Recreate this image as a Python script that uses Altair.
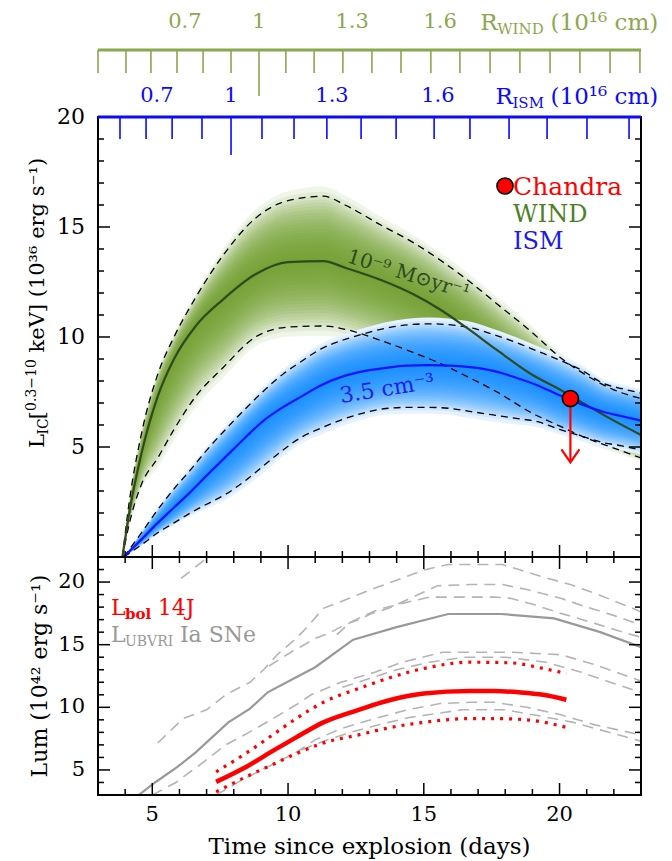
import math
import pandas as pd
import altair as alt

FONT = "DejaVu Serif"
GREEN_AX = "#8aa84e"
BLUE_AX = "#0a0aff"
WIND_FILL = "#6e9b2a"
WIND_LINE = "#2f4a1f"
ISM_FILL = "#0a8cff"
ISM_LINE = "#1414ff"

# ---------------- data: top panel (L_IC, 1e36 erg/s, vs days) ----------------
WIND_T   = [3.9, 4.15, 4.6, 5.2, 5.8, 6.6, 7.6, 8.8, 10.0, 11.3, 12.1, 13.4, 14.6, 15.6, 16.6, 17.7, 18.9, 20.1, 21.0, 22.0, 23.0]
WIND_MID = [0.0, 2.0, 4.7, 7.3, 9.0, 10.5, 11.7, 12.85, 13.4, 13.45, 13.15, 12.6, 11.95, 11.25, 10.4, 9.4, 8.35, 7.55, 6.9, 6.2, 5.55]
WIND_HI  = [0.0, 2.5, 5.6, 8.3, 10.0, 11.8, 13.7, 15.4, 16.2, 16.4, 16.0, 15.1, 14.3, 13.5, 12.6, 11.5, 10.3, 9.0, 8.25, 7.6, 7.2]
WIND_LO  = [0.0, 1.5, 3.3, 4.5, 5.8, 7.3, 8.6, 10.0, 10.45, 10.5, 10.35, 9.85, 9.3, 8.8, 8.2, 7.5, 6.6, 5.9, 5.4, 4.95, 4.5]

ISM_T   = [3.95, 4.6, 5.2, 5.8, 6.4, 7.0, 7.7, 8.4, 9.1, 9.8, 10.5, 11.2, 12.0, 12.8, 13.6, 14.4, 15.2, 16.0, 16.8, 17.6, 18.4, 19.2, 20.0, 20.8, 21.6, 22.3, 23.0]
ISM_MID = [0.0, 0.8, 1.55, 2.25, 2.95, 3.7, 4.55, 5.4, 6.2, 6.8, 7.3, 7.8, 8.2, 8.45, 8.6, 8.7, 8.72, 8.7, 8.62, 8.45, 8.15, 7.8, 7.35, 6.95, 6.6, 6.4, 6.2]
ISM_HI  = [0.0, 1.1, 2.15, 3.1, 3.95, 4.85, 5.8, 6.7, 7.55, 8.3, 8.9, 9.45, 9.85, 10.15, 10.4, 10.55, 10.6, 10.55, 10.4, 10.1, 9.75, 9.35, 8.95, 8.5, 7.9, 7.65, 7.45]
ISM_LO  = [0.0, 0.55, 1.1, 1.55, 2.0, 2.4, 2.85, 3.45, 4.15, 4.85, 5.45, 5.85, 6.25, 6.55, 6.75, 6.8, 6.8, 6.75, 6.6, 6.45, 6.3, 6.15, 5.8, 5.5, 5.2, 5.05, 4.85]

CHANDRA_T = 20.4
CHANDRA_L = 7.2
CHANDRA_LIMIT = 4.3

# top axes: radius (1e16 cm) marked at days
RWIND_TICK_T = [3.0, 4.03, 4.95, 5.91, 6.87, 7.90, 9.92, 10.96, 12.02, 13.09, 14.16, 15.26, 16.33, 17.44, 18.54, 19.65, 20.75, 21.86, 22.96]
RWIND_MAJOR_T = [8.93]
RWIND_LABEL_T = [6.2, 8.93, 12.36, 15.6]
RWIND_LABELS = ["0.7", "1", "1.3", "1.6"]
RISM_TICK_T = [3.81, 4.77, 5.73, 6.83, 9.04, 10.22, 11.43, 12.69, 13.98, 15.38, 16.70, 18.14, 19.54, 21.01, 22.56]
RISM_MAJOR_T = [7.9]
RISM_LABEL_T = [5.17, 7.9, 11.62, 15.52]
RISM_LABELS = ["0.7", "1", "1.3", "1.6"]

# ---------------- data: bottom panel (Lum, 1e42 erg/s) ----------------
LBOL_T   = [7.35, 8.5, 9.5, 10.3, 11.3, 12.6, 13.8, 15.0, 16.7, 17.6, 18.5, 19.4, 20.25]
LBOL     = [4.05, 5.3, 6.6, 7.6, 8.8, 9.8, 10.6, 11.1, 11.3, 11.3, 11.2, 11.0, 10.6]
LBOL_HI_T = [7.35, 8.5, 9.5, 10.3, 11.3, 12.6, 13.8, 15.0, 16.7, 18.2, 19.4, 20.25]
LBOL_HI   = [4.85, 6.4, 7.9, 9.1, 10.4, 11.5, 12.4, 13.1, 13.6, 13.55, 13.1, 12.7]
LBOL_LO_T = [7.35, 8.5, 9.5, 10.3, 11.3, 12.6, 13.8, 15.0, 16.7, 17.6, 18.8, 20.25]
LBOL_LO   = [3.25, 4.5, 5.5, 6.3, 7.15, 7.8, 8.4, 8.8, 9.1, 9.1, 9.0, 8.4]

UBVRI_MEAN_T = [4.5, 5.1, 5.9, 6.6, 7.8, 8.6, 9.25, 10.3, 11.0, 12.4, 14.0, 15.9, 17.85, 19.8, 21.5, 23.0]
UBVRI_MEAN   = [3.0, 4.0, 5.2, 6.4, 8.8, 9.9, 11.2, 12.4, 13.2, 15.4, 16.4, 17.45, 17.45, 17.1, 16.0, 14.8]

UBVRI_SNE = [
    ([6.06, 7.3], [20.3, 22.4]),
    ([5.2, 6.13, 7.0, 7.7, 8.6, 9.1, 9.6, 10.3, 10.7, 11.3, 12.6, 13.3, 14.2, 15.0, 15.9, 17.9, 18.5, 19.4, 20.4, 21.3, 22.7, 23.0],
     [7.15, 9.1, 9.8, 11.0, 12.0, 13.0, 14.2, 15.5, 16.4, 17.9, 19.0, 19.6, 20.3, 20.96, 21.4, 21.4, 21.0, 20.4, 19.8, 19.1, 17.9, 17.6]),
    ([9.3, 10.1, 10.6, 11.0, 11.5, 12.1, 12.6, 13.1, 13.7, 14.2, 15.0, 15.5, 16.7, 17.9, 18.8, 20.05, 21.0, 21.9, 22.7, 23.0],
     [13.3, 14.4, 15.0, 15.5, 15.9, 16.6, 17.0, 17.5, 17.9, 18.4, 19.2, 19.7, 19.8, 19.8, 19.4, 18.7, 18.0, 17.4, 16.8, 16.6]),
    ([11.8, 12.3, 13.3, 14.2, 15.2, 16.7, 17.6, 18.2, 19.05, 20.05, 21.3, 22.5, 23.0],
     [15.8, 16.8, 17.8, 18.3, 18.8, 18.8, 18.8, 18.7, 18.2, 17.5, 16.7, 15.9, 15.6]),
    ([5.0, 5.87, 6.87, 7.7, 8.56, 9.45, 10.3, 10.85, 11.95, 13.2, 14.2, 15.7, 16.7, 18.2, 20.05, 21.3, 23.0],
     [3.0, 4.0, 5.6, 7.0, 8.0, 9.1, 10.2, 11.0, 12.0, 12.8, 13.6, 14.4, 14.4, 14.4, 14.2, 13.4, 12.1]),
    ([12.0, 13.0, 14.0, 15.2, 16.5, 18.0, 19.5, 20.8, 22.0, 23.0],
     [11.6, 12.3, 13.0, 13.6, 14.0, 14.0, 13.6, 12.8, 11.9, 11.2]),
    ([7.35, 8.3, 9.3, 10.3, 11.0, 11.95, 13.2, 14.4, 15.6, 16.7, 17.6, 18.8, 20.05, 21.3, 23.0],
     [3.0, 4.2, 5.3, 6.4, 7.4, 8.3, 9.1, 9.8, 10.3, 10.4, 10.4, 10.0, 9.4, 8.6, 7.8]),
    ([10.5, 11.3, 12.3, 13.5, 14.5, 16.4, 18.0, 19.3, 20.5, 21.5, 23.0],
     [6.6, 7.3, 8.0, 8.7, 9.2, 9.8, 9.8, 9.3, 8.8, 8.2, 7.3]),
]

# ticks and tick labels
X_MAJOR = [5, 10, 15, 20]
X_MINOR = [4, 6, 7, 8, 9, 11, 12, 13, 14, 16, 17, 18, 19, 21, 22]
TOP_Y_MAJOR = [5, 10, 15]
TOP_Y_MINOR = [1, 2, 3, 4, 6, 7, 8, 9, 11, 12, 13, 14, 16, 17, 18, 19]
TOP_Y_LABELS = [5, 10, 15, 20]
BOT_Y_MAJOR = [5, 10, 15, 20]
BOT_Y_MINOR = [4, 6, 7, 8, 9, 11, 12, 13, 14, 16, 17, 18, 19, 21]

# ---------------- layout ----------------
W = 543
H0 = 109
H1 = 440
H2 = 238
xs = alt.Scale(domain=[3, 23], nice=False, zero=False)
ys1 = alt.Scale(domain=[0, 20], nice=False, zero=False)
ys2 = alt.Scale(domain=[3, 22], nice=False, zero=False)
ONE = pd.DataFrame({"k": [0]})

EM = {" ": .318, ".": .318, "(": .39, ")": .39, "[": .39, "]": .39, "−": .838, "-": .338,
      "L": .637, "I": .372, "C": .733, "R": .735, "W": 1.03, "N": .837, "D": .83, "S": .686,
      "M": .995, "U": .812, "B": .732, "V": .772, "J": .402, "k": .594, "e": .592, "g": .64,
      "r": .478, "s": .513, "c": .56, "m": .948, "a": .596, "b": .64, "o": .602, "l": .32,
      "y": .592, "n": .644}


def tw(s, size, bold=False):
    w = 0.0
    for ch in s:
        if ch.isdigit():
            w += .636
        else:
            w += EM.get(ch, .45)
    return w * size * (1.1 if bold else 1.0)


def rich(segs, x0, y0, angle, color):
    th = math.radians(angle)
    dx, dy = math.cos(th), math.sin(th)
    ux, uy = math.sin(th), -math.cos(th)
    pos = 0.0
    out = []
    for text, size, shift, bold in segs:
        lead = len(text) - len(text.lstrip(" "))
        pos += lead * EM[" "] * size
        body = text.lstrip(" ")
        px = x0 + dx * pos + ux * shift
        py = y0 + dy * pos + uy * shift
        out.append(alt.Chart(ONE).mark_text(
            text=body, font=FONT, fontSize=size, fontWeight="bold" if bold else "normal",
            color=color, align="left", baseline="alphabetic", angle=angle % 360
        ).encode(x=alt.value(px), y=alt.value(py)))
        pos += tw(body, size, bold)
    return out


def rich_width(segs):
    return sum(tw(t, s, b) for t, s, _, b in segs)


def txt(text, x, y, size, color, angle=0, align="left", baseline="alphabetic", bold=False):
    return alt.Chart(ONE).mark_text(
        text=text, font=FONT, fontSize=size, color=color, angle=angle % 360,
        align=align, baseline=baseline, fontWeight="bold" if bold else "normal"
    ).encode(x=alt.value(x), y=alt.value(y))


def xticks(vals, y1, y2, color="black", width=1.5):
    return alt.Chart(pd.DataFrame({"t": vals})).mark_rule(color=color, strokeWidth=width).encode(
        x=alt.X("t:Q", scale=xs, axis=None), y=alt.value(y1), y2=alt.value(y2))


def yticks(vals, x1, x2, ys):
    return alt.Chart(pd.DataFrame({"v": vals})).mark_rule(color="black", strokeWidth=1.5).encode(
        y=alt.Y("v:Q", scale=ys, axis=None), x=alt.value(x1), x2=alt.value(x2))


def ylabels(vals, ys, size):
    df = pd.DataFrame({"v": vals, "s": [str(v) for v in vals]})
    return alt.Chart(df).mark_text(font=FONT, fontSize=size, color="black", align="right",
                                   baseline="middle").encode(
        y=alt.Y("v:Q", scale=ys, axis=None), x=alt.value(-13), text="s:N")


def band(df, color, fs, op):
    out = []
    for f in fs:
        out.append(alt.Chart(df).transform_calculate(
            a=f"datum.mid - {f}*(datum.mid - datum.lo)",
            b=f"datum.mid + {f}*(datum.hi - datum.mid)"
        ).mark_area(color=color, opacity=op, interpolate="monotone").encode(
            x=alt.X("t:Q", scale=xs, axis=None),
            y=alt.Y("a:Q", scale=ys1, axis=None), y2="b:Q"))
    return out


def line(df, field, color, width, ys, dash=None, interp="monotone"):
    kw = dict(color=color, strokeWidth=width, interpolate=interp, clip=True)
    if dash:
        kw["strokeDash"] = dash
    return alt.Chart(df).mark_line(**kw).encode(
        x=alt.X("t:Q", scale=xs, axis=None), y=alt.Y(f"{field}:Q", scale=ys, axis=None))


# ---------------- strip with radius axes ----------------
wind_lab = pd.DataFrame({"t": RWIND_LABEL_T, "lab": RWIND_LABELS})
ism_lab = pd.DataFrame({"t": RISM_LABEL_T, "lab": RISM_LABELS})
rw_segs = [("R", 23, 0, False), ("WIND", 15, -4, False), (" (10¹⁶ cm)", 23, 0, False)]
ri_segs = [("R", 23, 0, False), ("ISM", 15, -4, False), (" (10¹⁶ cm)", 23, 0, False)]
strip_layers = [
    alt.Chart(ONE).mark_rule(color=GREEN_AX, strokeWidth=3).encode(
        x=alt.value(0), x2=alt.value(W), y=alt.value(42)),
    xticks(RWIND_TICK_T, 42, 65, GREEN_AX, 1.6),
    xticks(RWIND_MAJOR_T, 42, 88, GREEN_AX, 1.6),
    alt.Chart(wind_lab).mark_text(font=FONT, fontSize=21, color=GREEN_AX, baseline="middle").encode(
        x=alt.X("t:Q", scale=xs, axis=None), y=alt.value(14), text="lab:N"),
    alt.Chart(ism_lab).mark_text(font=FONT, fontSize=21, color=BLUE_AX, baseline="middle").encode(
        x=alt.X("t:Q", scale=xs, axis=None), y=alt.value(88), text="lab:N"),
]
strip_layers += rich(rw_segs, 571 - rich_width(rw_segs), 22, 0, GREEN_AX)
strip_layers += rich(ri_segs, 571 - rich_width(ri_segs), 96, 0, BLUE_AX)
strip = alt.layer(*strip_layers).properties(width=W, height=H0)

# ---------------- main panel ----------------
wind = pd.DataFrame({"t": WIND_T, "lo": WIND_LO, "mid": WIND_MID, "hi": WIND_HI})
ism = pd.DataFrame({"t": ISM_T, "lo": ISM_LO, "mid": ISM_MID, "hi": ISM_HI})
fs = [1.15, 1.07] + [round(1.0 - 0.05 * i, 2) for i in range(20)]
chandra = pd.DataFrame({"t": [CHANDRA_T], "v": [CHANDRA_L], "lim": [CHANDRA_LIMIT]})

main_layers = []
main_layers += band(wind, WIND_FILL, fs, 0.1)
main_layers += band(ism, "white", [1.15], 1.0)
main_layers += band(ism, ISM_FILL, fs, 0.1)
for df, fld in [(wind, "hi"), (wind, "lo"), (ism, "hi"), (ism, "lo")]:
    main_layers.append(line(df, fld, "black", 1.3, ys1, dash=[7, 5]))
main_layers.append(line(wind, "mid", WIND_LINE, 2.2, ys1))
main_layers.append(line(ism, "mid", ISM_LINE, 2.2, ys1))
main_layers.append(txt("10⁻⁹ M⊙yr⁻¹", 248, 145, 20, WIND_LINE, angle=17))
main_layers.append(txt("3.5 cm⁻³", 243, 286, 22, "#2020ee", angle=351))
main_layers.append(alt.Chart(chandra).mark_rule(color="red", strokeWidth=2.2).encode(
    x=alt.X("t:Q", scale=xs, axis=None), y=alt.Y("v:Q", scale=ys1, axis=None), y2="lim:Q"))
main_layers.append(alt.Chart(chandra).mark_point(
    shape="M-1,-1.45L0,0L1,-1.45", filled=False, color="red", strokeWidth=2.2, size=324, opacity=1).encode(
    x=alt.X("t:Q", scale=xs, axis=None), y=alt.Y("lim:Q", scale=ys1, axis=None)))
main_layers.append(alt.Chart(chandra).mark_circle(
    color="red", stroke="black", strokeWidth=1.6, size=260, opacity=1).encode(
    x=alt.X("t:Q", scale=xs, axis=None), y=alt.Y("v:Q", scale=ys1, axis=None)))
# legend
main_layers.append(alt.Chart(ONE).mark_circle(
    color="red", stroke="black", strokeWidth=1.6, size=260, opacity=1).encode(
    x=alt.value(407), y=alt.value(69)))
main_layers.append(txt("Chandra", 415, 78, 25, "red"))
main_layers.append(txt("WIND", 415, 105, 24, "#4f7f2a"))
main_layers.append(txt("ISM", 415, 132, 24, "#1a1aee"))
# ticks, labels, frame
main_layers += [
    xticks(X_MAJOR, H1, H1 - 12), xticks(X_MINOR, H1, H1 - 6),
    yticks(TOP_Y_MAJOR, 0, 12, ys1), yticks(TOP_Y_MINOR, 0, 6, ys1),
    yticks(TOP_Y_MAJOR, W, W - 12, ys1), yticks(TOP_Y_MINOR, W, W - 6, ys1),
    ylabels(TOP_Y_LABELS, ys1, 22),
    xticks(RISM_TICK_T, 0, 22, BLUE_AX, 1.6), xticks(RISM_MAJOR_T, 0, 38, BLUE_AX, 1.6),
    alt.Chart(ONE).mark_rect(fillOpacity=0, stroke="black", strokeWidth=2).encode(
        x=alt.value(0), x2=alt.value(W), y=alt.value(0), y2=alt.value(H1)),
    alt.Chart(ONE).mark_rule(color=BLUE_AX, strokeWidth=3).encode(
        x=alt.value(0), x2=alt.value(W), y=alt.value(0)),
    alt.Chart(ONE).mark_rule(color="white", strokeWidth=1).encode(
        x=alt.value(-89), y=alt.value(200), y2=alt.value(201)),
]
title_segs = [("L", 21, 0, False), ("IC", 14, -4, False), ("[", 21, 0, False),
              ("0.3−10", 14, 8, False), (" keV] (10³⁶ erg s⁻¹)", 21, 0, False)]
main_layers += rich(title_segs, -54, 331, 270, "black")
main = alt.layer(*main_layers).properties(width=W, height=H1)

# ---------------- bottom panel ----------------
sne_rows = []
for i, (ts, vs) in enumerate(UBVRI_SNE):
    for t, v in zip(ts, vs):
        sne_rows.append({"sn": i, "t": t, "v": v})
sne = pd.DataFrame(sne_rows)
mean = pd.DataFrame({"t": UBVRI_MEAN_T, "v": UBVRI_MEAN})
lbol = pd.DataFrame({"t": LBOL_T, "v": LBOL})
lbol_hi = pd.DataFrame({"t": LBOL_HI_T, "v": LBOL_HI})
lbol_lo = pd.DataFrame({"t": LBOL_LO_T, "v": LBOL_LO})
xlab = pd.DataFrame({"t": X_MAJOR, "s": [str(v) for v in X_MAJOR]})

bot_layers = [
    alt.Chart(sne).mark_line(color="#b4b4b4", strokeWidth=1.6, strokeDash=[11, 7], clip=True).encode(
        x=alt.X("t:Q", scale=xs, axis=None), y=alt.Y("v:Q", scale=ys2, axis=None), detail="sn:N"),
    line(mean, "v", "#999999", 2.2, ys2, interp="linear"),
    line(lbol_hi, "v", "red", 3.2, ys2, dash=[3, 6]),
    line(lbol_lo, "v", "red", 3.2, ys2, dash=[3, 6]),
    line(lbol, "v", "red", 4.5, ys2),
]
bot_layers += rich([("L", 22, 0, False), ("bol", 15, -4, True), (" 14J", 22, 0, False)], 13, 58, 0, "red")
bot_layers += rich([("L", 22, 0, False), ("UBVRI", 14, -4, False), (" Ia SNe", 22, 0, False)], 13, 85, 0, "#999999")
bot_layers += [
    xticks(X_MAJOR, 0, 12), xticks(X_MINOR, 0, 6),
    xticks(X_MAJOR, H2, H2 - 12), xticks(X_MINOR, H2, H2 - 6),
    yticks(BOT_Y_MAJOR, 0, 12, ys2), yticks(BOT_Y_MINOR, 0, 6, ys2),
    yticks(BOT_Y_MAJOR, W, W - 12, ys2), yticks(BOT_Y_MINOR, W, W - 6, ys2),
    ylabels(BOT_Y_MAJOR, ys2, 21),
    alt.Chart(xlab).mark_text(font=FONT, fontSize=21, color="black", baseline="middle").encode(
        x=alt.X("t:Q", scale=xs, axis=None), y=alt.value(H2 + 20), text="s:N"),
    txt("Time since explosion (days)", W / 2, H2 + 52, 23, "black", align="center", baseline="middle"),
    alt.Chart(ONE).mark_rect(fillOpacity=0, stroke="black", strokeWidth=2).encode(
        x=alt.value(0), x2=alt.value(W), y=alt.value(0), y2=alt.value(H2)),
    txt("Lum (10⁴² erg s⁻¹)", -51, H2 / 2, 22, "black", angle=270, align="center"),
]
bottom = alt.layer(*bot_layers).properties(width=W, height=H2)

chart = alt.vconcat(strip, main, bottom, spacing=0, bounds="flush").properties(
    padding={"left": 0, "top": 0, "right": 0, "bottom": 0}
).configure_view(strokeWidth=0, stroke="transparent")

chart.save("out.html", embed_options={"renderer": "svg", "actions": False})
